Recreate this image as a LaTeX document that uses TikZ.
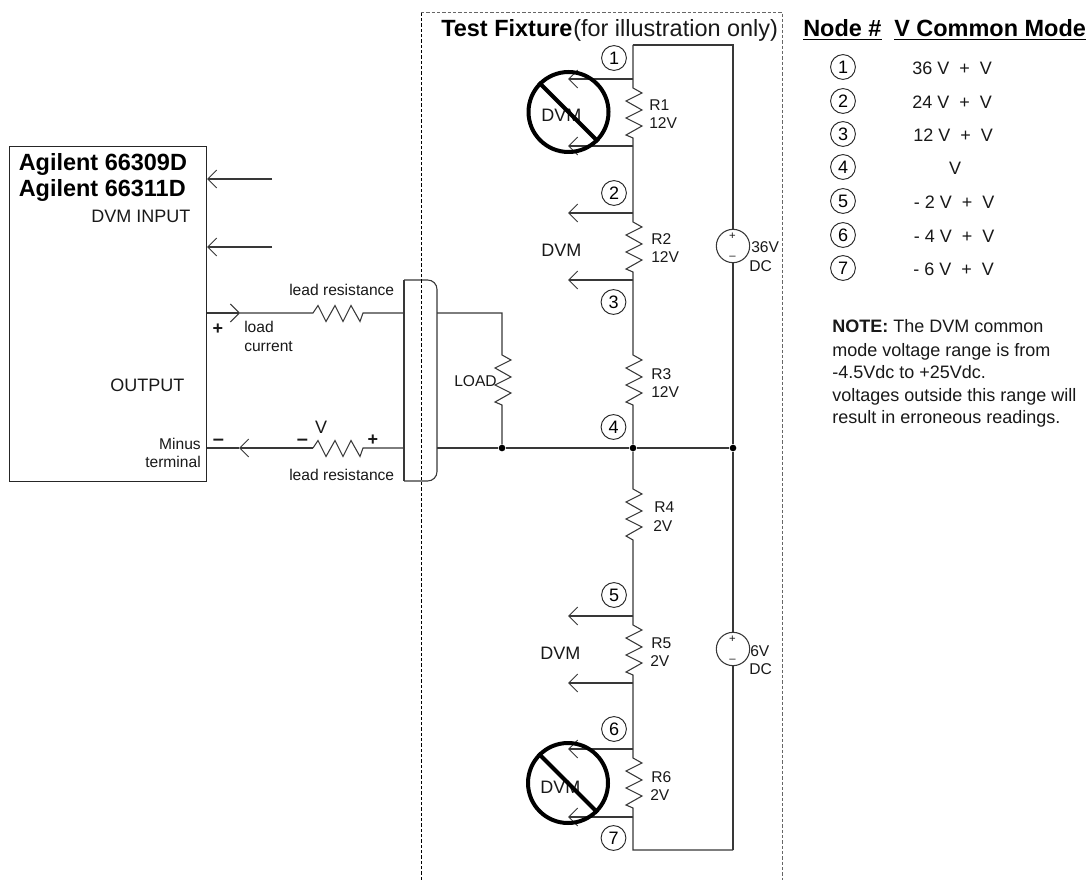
\documentclass[tikz,border=0pt]{standalone}
\usepackage{fontspec}
\setmainfont{Liberation Sans}
\usetikzlibrary{arrows.meta}
\definecolor{wirec}{gray}{0.22}
\newcommand\fbig{\fontsize{17.6pt}{20pt}\selectfont}
\newcommand\fmid{\fontsize{13.5pt}{16pt}\selectfont}
\newcommand\fsmall{\fontsize{11.7pt}{14pt}\selectfont}
\newcommand\ftiny{\fontsize{8.5pt}{10pt}\selectfont}
\tikzset{
  wire/.style={draw=wirec,line width=.8pt},
  probe/.style={wire,-{Straight Barb[length=6.75pt,width=13.5pt,line width=.75pt]}},
  lbl/.style={inner sep=0pt,anchor=base west,font=\fsmall,text=black!90},
  lblm/.style={lbl,font=\fmid},
  lblb/.style={lbl,font=\fbig\bfseries,text=black},
  lbll/.style={lbl,font=\fbig},
  num/.style={circle,draw=black!85,line width=.7pt,inner sep=0pt,minimum size=18.6pt,font=\fmid},
  jdot/.style={circle,fill=black,inner sep=0pt,minimum size=5pt},
  src/.style={circle,draw=wirec,line width=.8pt,inner sep=0pt,minimum size=25pt},
  block/.style={rectangle,draw=black!85,line width=.8pt,inner sep=0pt,anchor=north west},
  nosign/.style={draw=black,line width=3pt},
  fixture/.style={line width=.7pt,dash pattern=on 2.6pt off 1.4pt},
  zigv/.style={to path={-- ++(9,5) -- ++(-16,8) -- ++(16,9) -- ++(-16,8) -- ++(16,8) -- ++(-16,9) -- (\tikztotarget)}},
  zigh/.style={to path={-- ++(5,-7.5) -- ++(8,16) -- ++(9,-16) -- ++(8,16) -- ++(8,-16) -- ++(9,16) -- (\tikztotarget)}}
}
\begin{document}
\begin{tikzpicture}[x=.75pt,y=-.75pt]
\path[use as bounding box,fill=white] (0,0) rectangle (1091,880);

% power supply
\node[block,minimum width=147.75pt,minimum height=251.25pt] (psu) at (9,146) {};
\coordinate (inA) at (272,179); \coordinate (inAt) at (207,179);
\coordinate (inB) at (272,247); \coordinate (inBt) at (207,247);
\draw[probe] (inA) -- (inAt);
\draw[probe] (inB) -- (inBt);
\node[lblb] (ag1) at (18.5,171) {Agilent 66309D};
\node[lblb] (ag2) at (18.5,197) {Agilent 66311D};
\node[lblm] (dvmin) at (91,223) {DVM INPUT};
\node[lblm] (out) at (110,391) {OUTPUT};
\node[lbl,anchor=base east] (minus) at (201,449) {Minus};
\node[lbl,anchor=base east] (term) at (201,467) {terminal};

% connector block
\coordinate (ctl) at (404,280); \coordinate (ctr) at (437,280);
\coordinate (cbr) at (437,481); \coordinate (cbl) at (404,481);
\draw[wire,rounded corners=7pt] (ctl) -- (ctr) -- (cbr) -- (cbl);
\draw[wire] (ctl) -- (cbl);

% lead wires
\coordinate (pa) at (207,313); \coordinate (pt) at (240,313);
\coordinate (pr1) at (313,313); \coordinate (pr2) at (363,313);
\coordinate (pb) at (404,313); \coordinate (pc) at (437,313);
\draw[probe] (pa) -- (pt);
\draw[wire] (pt) -- (pr1) to[zigh] (pr2) -- (pb);
\coordinate (ma) at (207,448); \coordinate (mt) at (239,448);
\coordinate (mr1) at (313,448); \coordinate (mr2) at (363,448);
\coordinate (mb) at (404,448); \coordinate (mc) at (437,448);
\draw[probe] (mr1) -- (mt);
\draw[wire] (mt) -- (ma);
\draw[wire] (mr1) to[zigh] (mr2) -- (mb);
\node[lbl] (lr1) at (289,296) {lead resistance};
\node[lbl] (lr2) at (289,480) {lead resistance};
\node[lbl] (lc1) at (244,333) {load};
\node[lbl] (lc2) at (244,351) {current};
\node[lbl,anchor=center,font=\fmid\bfseries] (pl1) at (218,329.5) {+};
\node[lblm,anchor=base] (vv) at (321,433) {V};
\node[lbl,anchor=center,font=\fontsize{15pt}{16pt}\selectfont\bfseries] (mn1) at (218.5,442) {–};
\node[lbl,anchor=center,font=\fontsize{15pt}{16pt}\selectfont\bfseries] (mn2) at (302.5,442) {–};
\node[lbl,anchor=center,font=\fmid\bfseries] (pl2) at (373,440.5) {+};

% dots
\node[jdot] (dl) at (502,448) {};
\node[jdot] (dm) at (633,448) {};
\node[jdot] (dr) at (733,448) {};

% load
\coordinate (lc) at (502,313);
\coordinate (lt) at (502,355); \coordinate (lb) at (502,405);
\draw[wire] (pc) -- (lc) -- (lt) to[zigv] (lb) -- (dl);
\draw[wire] (mc) -- (dl) -- (dm) -- (dr);
\node[lbl] (load) at (454,386) {LOAD};

% junctions
\coordinate (top) at (633,45); \coordinate (topr) at (733,45);
\coordinate (j1) at (633,79);  \coordinate (r1t) at (633,88);  \coordinate (r1b) at (633,138); \coordinate (j1b) at (633,146);
\coordinate (j2) at (633,213); \coordinate (r2t) at (633,222); \coordinate (r2b) at (633,272); \coordinate (j3) at (633,280);
\coordinate (r3t) at (633,355); \coordinate (r3b) at (633,405);
\coordinate (r4t) at (633,489); \coordinate (r4b) at (633,540);
\coordinate (j5) at (633,616); \coordinate (r5t) at (633,625); \coordinate (r5b) at (633,675); \coordinate (j5b) at (633,683);
\coordinate (j6) at (633,749); \coordinate (r6t) at (633,758); \coordinate (r6b) at (633,808); \coordinate (j7) at (633,817);
\coordinate (bot) at (633,850); \coordinate (botr) at (733,850);

\draw[wire] (top) -- (j1) -- (r1t) to[zigv] (r1b) -- (j1b) -- (j2) -- (r2t) to[zigv] (r2b) -- (j3) -- (r3t) to[zigv] (r3b) -- (dm);
\draw[wire] (dm) -- (r4t) to[zigv] (r4b) -- (j5) -- (r5t) to[zigv] (r5b) -- (j5b) -- (j6) -- (r6t) to[zigv] (r6b) -- (j7) -- (bot) -- (botr);

% sources
\node[src] (s36) at (733,246) {};
\node[src] (s6) at (733,649) {};
\draw[wire] (top) -- (topr) -- (s36);
\draw[wire] (s36) -- (dr) -- (s6);
\draw[wire] (s6) -- (botr);
\node[lbl,anchor=center,font=\ftiny] (sp1) at (732.5,236) {+};
\node[lbl,anchor=center,font=\ftiny] (sm1) at (732.5,258) {–};
\node[lbl,anchor=center,font=\ftiny] (sp2) at (732.5,639) {+};
\node[lbl,anchor=center,font=\ftiny] (sm2) at (732.5,661) {–};
\node[lbl] (v36) at (751,253) {36V};
\node[lbl] (dc36) at (749,272) {DC};
\node[lbl] (v6) at (750,656) {6V};
\node[lbl] (dc6) at (749,674) {DC};

% probes
\coordinate (t1) at (568,79); \coordinate (t1b) at (568,146);
\coordinate (t2) at (568,213); \coordinate (t3) at (568,280);
\coordinate (t5) at (568,616); \coordinate (t5b) at (568,683);
\coordinate (t6) at (568,749); \coordinate (t7) at (568,817);
\draw[probe] (j1) -- (t1);
\draw[probe] (j1b) -- (t1b);
\draw[probe] (j2) -- (t2);
\draw[probe] (j3) -- (t3);
\draw[probe] (j5) -- (t5);
\draw[probe] (j5b) -- (t5b);
\draw[probe] (j6) -- (t6);
\draw[probe] (j7) -- (t7);

% DVM labels
\node[lblm] (dvm1) at (541,122) {DVM};
\node[lblm] (dvm2) at (541,257) {DVM};
\node[lblm] (dvm3) at (540,659) {DVM};
\node[lblm] (dvm4) at (540,793) {DVM};

% prohibition signs
\node[circle,nosign,inner sep=0pt,minimum size=60pt] (no1) at (568.5,112) {};
\node[circle,nosign,inner sep=0pt,minimum size=60pt] (no2) at (568,783) {};
\draw[nosign] (no1.135) -- (no1.-45);
\draw[nosign] (no2.135) -- (no2.-45);

% resistor labels
\node[lbl] (R1) at (649,111) {R1};   \node[lbl] (R1v) at (649,129) {12V};
\node[lbl] (R2) at (651,245) {R2};   \node[lbl] (R2v) at (651,263) {12V};
\node[lbl] (R3) at (651,379) {R3};   \node[lbl] (R3v) at (651,397) {12V};
\node[lbl] (R4) at (654,512) {R4};   \node[lbl] (R4v) at (653,531) {2V};
\node[lbl] (R5) at (651,648) {R5};   \node[lbl] (R5v) at (650,666) {2V};
\node[lbl] (R6) at (651,782) {R6};   \node[lbl] (R6v) at (650,800) {2V};

% node numbers
\node[num] (n1) at (614,58) {1};
\node[num] (n2) at (614,193) {2};
\node[num] (n3) at (613.5,302) {3};
\node[num] (n4) at (613.5,427) {4};
\node[num] (n5) at (614,595) {5};
\node[num] (n6) at (614,729) {6};
\node[num] (n7) at (613.5,838) {7};

% fixture outline
\coordinate (fbl) at (421,880); \coordinate (ftl) at (421,12);
\coordinate (ftr) at (782,12); \coordinate (fbr) at (782,880);
\draw[fixture,black] (fbl) -- (ftl);
\draw[fixture,black!60] (ftl) -- (ftr) -- (fbr);
\node[lblb] (tf) at (441,37) {Test Fixture};
\node[lbll] (tf2) at (573,37) {(for illustration only)};

% table
\node[lblb] (h1) at (803,37) {\underline{Node \#}};
\node[lblb] (h2) at (894,37) {\underline{V Common Mode}};
\node[num] (k1) at (843,67) {1};
\node[num] (k2) at (843,101) {2};
\node[num] (k3) at (843,134) {3};
\node[num] (k4) at (843,167) {4};
\node[num] (k5) at (843,201) {5};
\node[num] (k6) at (843,235) {6};
\node[num] (k7) at (843,268) {7};
\node[lblm] (c1) at (912,75) {36 V~~+~~V};
\node[lblm] (c2) at (912,109) {24 V~~+~~V};
\node[lblm] (c3) at (913,142) {12 V~~+~~V};
\node[lblm,anchor=base] (c4) at (955,175) {V};
\node[lblm] (c5) at (913.5,209) {- 2 V~~+~~V};
\node[lblm] (c6) at (913.5,243) {- 4 V~~+~~V};
\node[lblm] (c7) at (913,276) {- 6 V~~+~~V};

% note
\node[lblm] (no-a) at (832,333) {\textbf{NOTE:} The DVM common};
\node[lblm] (no-b) at (832,356) {mode voltage range is from};
\node[lblm] (no-c) at (832,378) {-4.5Vdc to +25Vdc.};
\node[lblm] (no-d) at (832,401) {voltages outside this range will};
\node[lblm] (no-e) at (832,423) {result in erroneous readings.};
\end{tikzpicture}
\end{document}
